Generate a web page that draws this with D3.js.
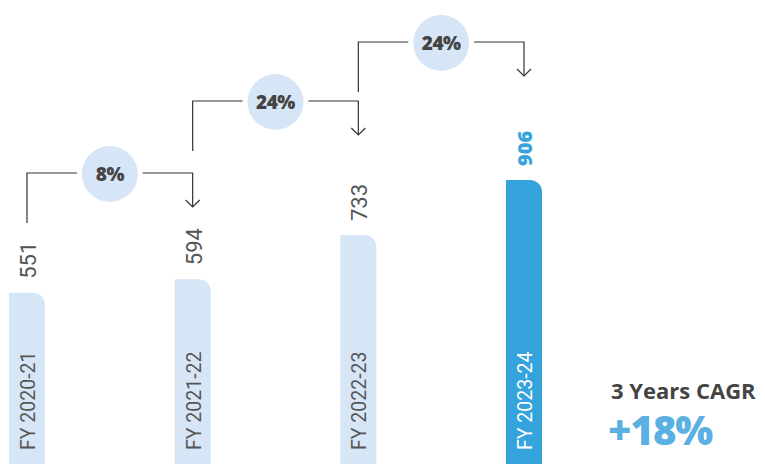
<!DOCTYPE html>
<html>
<head>
<meta charset="utf-8">
<script src="https://cdn.jsdelivr.net/npm/d3@7"></script>
<style>
  body { margin: 0; background: #fff; }
  svg { display: block; }
</style>
</head>
<body>
<div class="chart"></div>
<script>
"use strict";

const categories = ["FY 2020-21", "FY 2021-22", "FY 2022-23", "FY 2023-24"];
const values = [551, 594, 733, 906];
const growthLabels = ["8%", "24%", "24%"];
const cagrTitle = "3 Years CAGR";
const cagrValue = "+18%";

// layout
const W = 765, H = 464;
const barW = 36, radius = 12;
const connectorY = [173, 101, 42];
const lightBlue = "#d7e6f6", darkBlue = "#35a4dc", grey = "#555";
const boldFont = "'Open Sans', Lato, sans-serif";
const thinFont = "'Liberation Sans Narrow', Roboto, sans-serif";

const svg = d3.select(".chart")
    .append("svg")
    .attr("width", W)
    .attr("height", H);

const x = d3.scalePoint()
    .domain(categories)
    .range([27, 524]);

const y = d3.scaleLinear()
    .domain([0, d3.max(values)])
    .range([468, 180]);

const data = categories.map((c, i) => ({ cat: c, v: values[i], last: i === categories.length - 1 }));

// bars, only top right corner rounded
const barPath = d => {
    const x0 = x(d.cat) - barW / 2, x1 = x(d.cat) + barW / 2, top = y(d.v), bottom = y(0);
    return `M${x0},${bottom}V${top}H${x1 - radius}A${radius},${radius} 0 0 1 ${x1},${top + radius}V${bottom}Z`;
};

svg.selectAll(".bar")
    .data(data)
    .enter()
    .append("path")
    .attr("class", "bar")
    .attr("d", barPath)
    .attr("fill", d => d.last ? darkBlue : lightBlue);

// category labels inside bars
svg.selectAll(".cat")
    .data(data)
    .enter()
    .append("text")
    .attr("transform", d => `translate(${x(d.cat) + 1},450) rotate(-90)`)
    .attr("dy", "0.36em")
    .attr("font-family", thinFont)
    .attr("font-size", 19.5)
    .attr("fill", d => d.last ? "#fff" : grey)
    .text(d => d.cat);

// value labels above bars
svg.selectAll(".val")
    .data(data)
    .enter()
    .append("text")
    .attr("transform", d => `translate(${x(d.cat) + 1},${y(d.v) - 14}) rotate(-90)`)
    .attr("dy", "0.36em")
    .attr("font-family", d => d.last ? boldFont : thinFont)
    .attr("font-weight", d => d.last ? 800 : 400)
    .attr("font-size", d => d.last ? 20 : 22)
    .attr("fill", d => d.last ? darkBlue : grey)
    .text(d => d.v);

// growth connectors
const links = growthLabels.map((g, i) => ({
    label: g,
    x0: x(categories[i]),
    x1: x(categories[i + 1]),
    yh: connectorY[i]
}));

const link = svg.selectAll(".link")
    .data(links)
    .enter()
    .append("g");

link.append("path")
    .attr("d", d => `M${d.x0},${d.yh + 50}V${d.yh}H${d.x1}V${d.yh + 34}`)
    .attr("fill", "none")
    .attr("stroke", "#333")
    .attr("stroke-width", 1.2);

link.append("path")
    .attr("d", d => `M${d.x1 - 7},${d.yh + 27}L${d.x1},${d.yh + 34}L${d.x1 + 7},${d.yh + 27}`)
    .attr("fill", "none")
    .attr("stroke", "#333")
    .attr("stroke-width", 1.2);

// white halo to cut the line, then the bubble
link.append("circle")
    .attr("cx", d => (d.x0 + d.x1) / 2)
    .attr("cy", d => d.yh + 1)
    .attr("r", 33)
    .attr("fill", "#fff");

link.append("circle")
    .attr("cx", d => (d.x0 + d.x1) / 2)
    .attr("cy", d => d.yh + 1)
    .attr("r", 28)
    .attr("fill", lightBlue);

link.append("text")
    .attr("x", d => (d.x0 + d.x1) / 2)
    .attr("y", d => d.yh + 1)
    .attr("dy", "0.36em")
    .attr("text-anchor", "middle")
    .attr("font-family", boldFont)
    .attr("font-weight", 800)
    .attr("font-size", 19)
    .attr("letter-spacing", -0.5)
    .attr("fill", "#444")
    .text(d => d.label);

// CAGR note
svg.append("text")
    .attr("x", 611)
    .attr("y", 399)
    .attr("font-family", boldFont)
    .attr("font-weight", 700)
    .attr("font-size", 22)
    .attr("fill", "#444")
    .text(cagrTitle);

svg.append("text")
    .attr("x", 608)
    .attr("y", 445)
    .attr("font-family", boldFont)
    .attr("font-weight", 800)
    .attr("font-size", 40)
    .attr("letter-spacing", -1)
    .attr("fill", "#5ab0e2")
    .text(cagrValue);
</script>
</body>
</html>
